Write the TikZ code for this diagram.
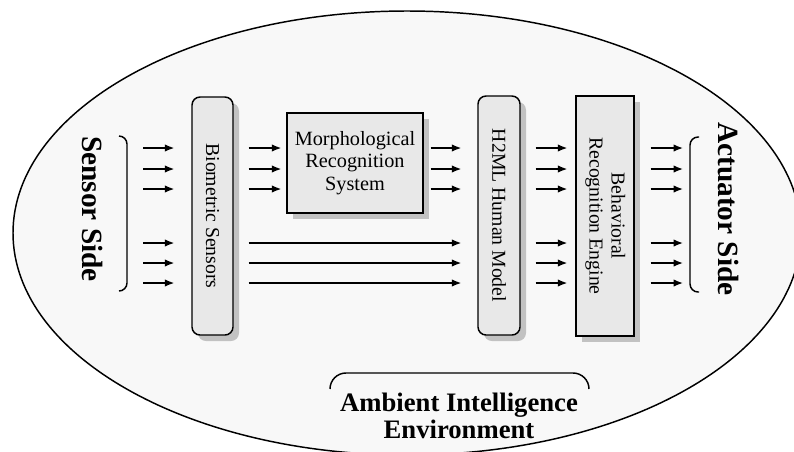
\documentclass[tikz,border=0pt]{standalone}
\usepackage{fontspec}
\setmainfont{Liberation Serif}
\usetikzlibrary{arrows.meta,shadows}
\definecolor{envfill}{HTML}{F8F8F8}
\definecolor{boxfill}{HTML}{E8E8E8}
\tikzset{
  blockbox/.style={draw=black, line width=1.1pt, fill=boxfill, inner sep=0pt,
    general shadow={fill=black!24, shadow xshift=4.5pt, shadow yshift=-4.5pt}},
  boxtext/.style={font=\fontsize{14.8}{16.5}\selectfont, align=center},
  sidetext/.style={rotate=-90, font=\fontsize{22}{26}\selectfont\bfseries},
  flow/.style={-{Latex[length=7pt,width=5.5pt]}, line width=1pt},
  bracket/.style={line width=1.1pt, rounded corners=6pt}
}
\begin{document}
\begin{tikzpicture}[x=0.75pt,y=0.75pt]
\useasboundingbox (0,0) rectangle (794,-451);
\clip (0,0) rectangle (794,-451);
\fill[white] (0,0) rectangle (794,-451);
% environment
\draw[line width=1.1pt, fill=envfill] (407,-233) ellipse [x radius=394, y radius=222];

% rows of the signal lines
\coordinate (r1) at (0,-148);
\coordinate (r2) at (0,-169);
\coordinate (r3) at (0,-189);
\coordinate (r4) at (0,-243);
\coordinate (r5) at (0,-263);
\coordinate (r6) at (0,-283);
\coordinate (SL) at (143,0); % sensor lines start
\coordinate (AR) at (683,0); % actuator lines end

% blocks
\node[blockbox, rounded corners=6pt, minimum width=30.75pt, minimum height=178.5pt, boxtext] (bio) at (212.5,-216) {\rotatebox{-90}{Biometric Sensors}};
\node[blockbox, minimum width=102pt, minimum height=75pt, boxtext, font=\fontsize{15.2}{16.8}\selectfont] (morph) at (355,-163) {Morphological\\Recognition\\System};
\node[blockbox, rounded corners=6pt, minimum width=31.5pt, minimum height=179.25pt, boxtext] (h2ml) at (499,-215.5) {\rotatebox{-90}{H2ML Human Model}};
\node[blockbox, minimum width=43.5pt, minimum height=180pt, boxtext] (beh) at (605,-216) {\rotatebox{-90}{\begin{tabular}{@{}c@{}}Behavioral\\Recognition Engine\end{tabular}}};

% sides
\node[sidetext] (sensor) at (93,-209) {Sensor Side};
\node[sidetext] (actuator) at (728,-209) {Actuator Side};
\draw[bracket] (119,-136) -- (127,-136) -- (127,-291) -- (119,-291);
\draw[bracket] (699,-137) -- (690,-137) -- (690,-292) -- (699,-292);

% signal lines
\foreach \r in {1,...,6} {
  \draw[flow, shorten >=12.75pt] (SL |- r\r) -- (bio.west |- r\r);
  \draw[flow, shorten <=11.25pt, shorten >=6pt] (h2ml.east |- r\r) -- (beh.west |- r\r);
  \draw[flow, shorten <=12pt] (beh.east |- r\r) -- (AR |- r\r);
}
\foreach \r in {1,2,3} {
  \draw[flow, shorten <=11.25pt, shorten >=3.75pt] (bio.east |- r\r) -- (morph.west |- r\r);
  \draw[flow, shorten <=5.25pt, shorten >=12pt] (morph.east |- r\r) -- (h2ml.west |- r\r);
}
\foreach \r in {4,5,6}
  \draw[flow, shorten <=11.25pt, shorten >=12pt] (bio.east |- r\r) -- (h2ml.west |- r\r);

% environment label
\node[font=\fontsize{20}{20.3}\selectfont\bfseries, align=center] (ambient) at (459,-415.5) {Ambient Intelligence\\Environment};
\draw[bracket, rounded corners=12pt] (330,-389) -- (330,-373) -- (589,-373) -- (589,-389);
\end{tikzpicture}
\end{document}
